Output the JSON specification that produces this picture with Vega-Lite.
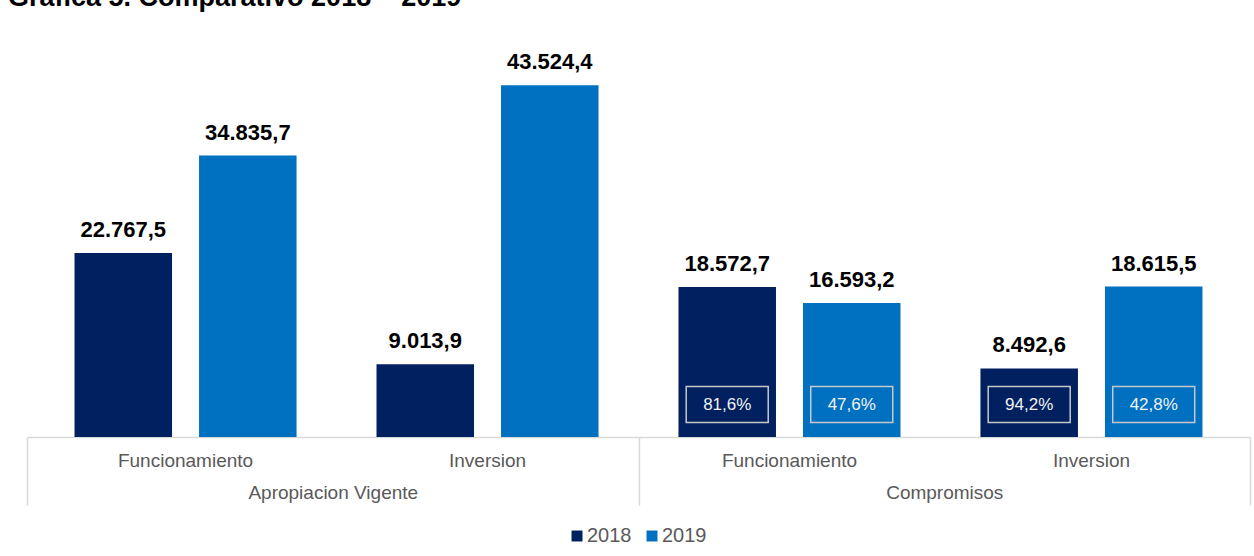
{
  "$schema": "https://vega.github.io/schema/vega-lite/v6.json",
  "width": 1223,
  "height": 404,
  "autosize": {"type": "none"},
  "padding": {"left": 27, "top": 33, "right": 4, "bottom": 119},
  "background": "white",
  "title": {
    "text": "Gráfica 5. Comparativo 2018 – 2019",
    "anchor": "start",
    "frame": "group",
    "dx": -19,
    "offset": 21,
    "fontSize": 27,
    "font": "Liberation Sans",
    "fontWeight": "bold",
    "color": "#000000"
  },
  "data": {
    "values": [
      {"grupo": "Apropiacion Vigente", "cat": "Apropiacion Vigente|Funcionamiento", "anio": "2018", "valor": 22767.5},
      {"grupo": "Apropiacion Vigente", "cat": "Apropiacion Vigente|Funcionamiento", "anio": "2019", "valor": 34835.7},
      {"grupo": "Apropiacion Vigente", "cat": "Apropiacion Vigente|Inversion", "anio": "2018", "valor": 9013.9},
      {"grupo": "Apropiacion Vigente", "cat": "Apropiacion Vigente|Inversion", "anio": "2019", "valor": 43524.4},
      {"grupo": "Compromisos", "cat": "Compromisos|Funcionamiento", "anio": "2018", "valor": 18572.7, "pct": 0.816},
      {"grupo": "Compromisos", "cat": "Compromisos|Funcionamiento", "anio": "2019", "valor": 16593.2, "pct": 0.476},
      {"grupo": "Compromisos", "cat": "Compromisos|Inversion", "anio": "2018", "valor": 8492.6, "pct": 0.942},
      {"grupo": "Compromisos", "cat": "Compromisos|Inversion", "anio": "2019", "valor": 18615.5, "pct": 0.428}
    ]
  },
  "layer": [
    {
      "encoding": {
        "x": {
          "field": "cat",
          "type": "nominal",
          "sort": null,
          "scale": {"paddingInner": 0, "paddingOuter": 0.025},
          "axis": {
            "orient": "bottom",
            "title": null,
            "labelExpr": "split(datum.label, '|')[1]",
            "labelAngle": 0,
            "labelFontSize": 19,
            "labelColor": "#595959",
            "labelPadding": 14,
            "ticks": false,
            "domain": true,
            "domainColor": "#d9d9d9",
            "domainWidth": 1.5,
            "grid": false
          }
        },
        "xOffset": {
          "field": "anio",
          "type": "nominal",
          "scale": {"paddingInner": 0.217, "paddingOuter": 0.321}
        },
        "y": {
          "field": "valor",
          "type": "quantitative",
          "scale": {"domain": [0, 50000], "nice": false},
          "axis": null
        }
      },
      "layer": [
        {
          "mark": {"type": "bar"},
          "encoding": {
            "color": {
              "field": "anio",
              "type": "nominal",
              "scale": {"domain": ["2018", "2019"], "range": ["#002060", "#0070C0"]},
              "legend": {
                "orient": "none",
                "legendX": 540,
                "legendY": 493,
                "direction": "horizontal",
                "title": null,
                "symbolType": "square",
                "symbolSize": 120,
                "symbolStrokeWidth": 0,
                "labelFontSize": 20,
                "labelColor": "#595959",
                "labelOffset": 0,
                "columnPadding": 10
              }
            }
          }
        },
        {
          "mark": {"type": "text", "baseline": "alphabetic", "dy": -16, "fontSize": 22, "fontWeight": "bold", "color": "#000000"},
          "encoding": {
            "text": {"field": "valor", "type": "quantitative", "format": ",.1f"}
          }
        },
        {
          "transform": [{"filter": "isValid(datum.pct)"}],
          "mark": {
            "type": "point",
            "shape": "M-1,-0.439H1V0.439H-1Z",
            "size": 6724,
            "filled": false,
            "stroke": "#c8c8c8",
            "strokeWidth": 1.5,
            "opacity": 1,
            "yOffset": -32.5
          },
          "encoding": {
            "y": {"datum": 0}
          }
        },
        {
          "transform": [{"filter": "isValid(datum.pct)"}],
          "mark": {"type": "text", "baseline": "middle", "dy": -32, "fontSize": 17, "color": "#f2f2f2"},
          "encoding": {
            "y": {"datum": 0},
            "text": {"field": "pct", "type": "quantitative", "format": ".1%"}
          }
        }
      ]
    },
    {
      "mark": {"type": "point", "opacity": 0},
      "encoding": {
        "x": {
          "field": "grupo",
          "type": "nominal",
          "scale": {"paddingInner": 0, "paddingOuter": 0},
          "axis": {
            "orient": "bottom",
            "title": null,
            "labelAngle": 0,
            "labelFontSize": 19,
            "labelColor": "#595959",
            "labelPadding": -22,
            "ticks": true,
            "tickBand": "extent",
            "tickSize": 68,
            "tickColor": "#d9d9d9",
            "tickWidth": 1.5,
            "domain": false,
            "grid": false
          }
        },
        "y": {"datum": 0}
      }
    }
  ],
  "resolve": {"scale": {"x": "independent"}, "axis": {"x": "independent"}},
  "config": {
    "font": "Liberation Sans",
    "view": {"stroke": null},
    "locale": {"number": {"decimal": ",", "thousands": ".", "grouping": [3], "currency": ["$", ""]}}
  }
}
